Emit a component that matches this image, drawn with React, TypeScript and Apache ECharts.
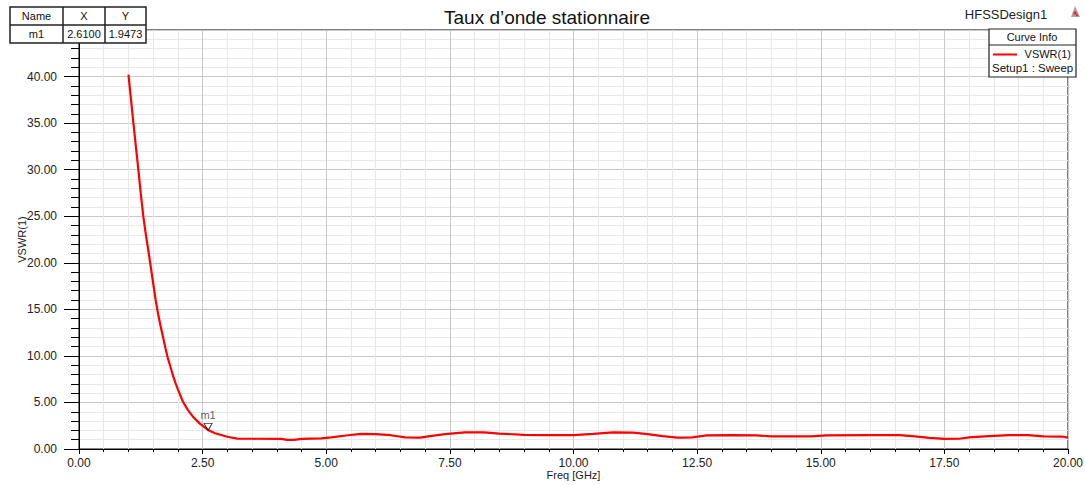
import React, { useEffect, useRef } from "react";
import * as echarts from "echarts";

const TITLE = "Taux d’onde stationnaire";
const DESIGN = "HFSSDesign1";
const X_NAME = "Freq [GHz]";
const Y_NAME = "VSWR(1)";
const SERIES_NAME = "VSWR(1)";
const SETUP_NAME = "Setup1 : Sweep";

const freq = [
  1.0, 1.05, 1.1, 1.15, 1.2, 1.25, 1.3, 1.35, 1.4, 1.45, 1.5, 1.55, 1.6, 1.65, 1.7, 1.75, 1.79, 1.85,
  1.9, 1.95, 2.0, 2.1, 2.2, 2.3, 2.45, 2.61, 2.75, 3.0, 3.2, 3.5, 4.1, 4.2, 4.35, 4.5, 4.9, 5.1, 5.4,
  5.7, 6.0, 6.3, 6.6, 6.9, 7.1, 7.4, 7.8, 8.2, 8.5, 9.0, 9.5, 10.0, 10.4, 10.8, 11.2, 11.5, 11.8, 12.1,
  12.4, 12.7, 13.2, 13.7, 14.0, 14.8, 15.1, 16.0, 16.6, 16.9, 17.2, 17.5, 17.8, 18.0, 18.4, 18.8, 19.2,
  19.5, 19.9, 20.0,
];
const vswr = [
  40.2, 37.6, 35.0, 32.5, 30.0, 27.4, 25.0, 23.1, 21.4, 19.6, 17.8, 16.0, 14.5, 13.2, 12.0, 10.8, 9.9,
  8.8, 7.9, 7.1, 6.4, 5.1, 4.2, 3.5, 2.7, 2.05, 1.69, 1.32, 1.12, 1.1, 1.08, 0.98, 0.98, 1.08, 1.15,
  1.25, 1.45, 1.62, 1.6, 1.48, 1.25, 1.22, 1.38, 1.6, 1.78, 1.78, 1.66, 1.52, 1.5, 1.5, 1.62, 1.78,
  1.76, 1.6, 1.38, 1.22, 1.25, 1.46, 1.5, 1.46, 1.36, 1.36, 1.46, 1.5, 1.48, 1.36, 1.2, 1.08, 1.1,
  1.25, 1.38, 1.5, 1.48, 1.36, 1.32, 1.22,
];

const markerNames = ["m1"];
const markerX = [2.61];
const markerY = [1.9473];
const tableHeaders = ["Name", "X", "Y"];

const FONT = "Liberation Sans, Arial, sans-serif";

export default function App() {
  const ref = useRef<HTMLDivElement>(null);

  useEffect(() => {
    if (!ref.current) return;
    const chart = echarts.init(ref.current, undefined, { renderer: "svg" });

    const colX = [10, 63, 105, 146];
    const rowY = [7, 25, 43];
    const tableRows = [tableHeaders, [markerNames[0], markerX[0].toFixed(4), markerY[0].toFixed(4)]];
    const tableGraphics: any[] = [
      { type: "rect", shape: { x: colX[0], y: rowY[0], width: colX[3] - colX[0], height: rowY[2] - rowY[0] }, style: { fill: "#fff", stroke: "#222", lineWidth: 1.5 }, z: 10 },
      { type: "line", shape: { x1: colX[0], y1: rowY[1], x2: colX[3], y2: rowY[1] }, style: { stroke: "#222", lineWidth: 1.5 }, z: 11 },
      { type: "line", shape: { x1: colX[1], y1: rowY[0], x2: colX[1], y2: rowY[2] }, style: { stroke: "#222", lineWidth: 1.5 }, z: 11 },
      { type: "line", shape: { x1: colX[2], y1: rowY[0], x2: colX[2], y2: rowY[2] }, style: { stroke: "#222", lineWidth: 1.5 }, z: 11 },
    ];
    tableRows.forEach((row, r) => {
      row.forEach((txt, c) => {
        tableGraphics.push({
          type: "text",
          x: (colX[c] + colX[c + 1]) / 2,
          y: (rowY[r] + rowY[r + 1]) / 2,
          z: 12,
          style: { text: txt, fill: "#111", font: `11px ${FONT}`, align: "center", verticalAlign: "middle" },
        });
      });
    });

    const legendGraphics: any[] = [
      { type: "rect", shape: { x: 989, y: 29, width: 87, height: 48 }, style: { fill: "#fff", stroke: "#222", lineWidth: 1.2 }, z: 10 },
      { type: "line", shape: { x1: 989, y1: 45, x2: 1076, y2: 45 }, style: { stroke: "#222", lineWidth: 1 }, z: 11 },
      { type: "text", x: 1032, y: 37, z: 12, style: { text: "Curve Info", fill: "#111", font: `11px ${FONT}`, align: "center", verticalAlign: "middle" } },
      { type: "line", shape: { x1: 993, y1: 54.5, x2: 1017, y2: 54.5 }, style: { stroke: "#ff0000", lineWidth: 2 }, z: 11 },
      { type: "text", x: 1071, y: 54, z: 12, style: { text: SERIES_NAME, fill: "#111", font: `11px ${FONT}`, align: "right", verticalAlign: "middle" } },
      { type: "text", x: 992, y: 68, z: 12, style: { text: SETUP_NAME, fill: "#111", font: `11.5px ${FONT}`, align: "left", verticalAlign: "middle" } },
    ];

    const otherGraphics: any[] = [
      { type: "text", x: 1006, y: 14, style: { text: DESIGN, fill: "#222", font: `13px ${FONT}`, align: "center", verticalAlign: "middle" } },
      { type: "polygon", shape: { points: [[1075, 6], [1071, 17], [1080, 17]] }, style: { fill: "#b0a0a0" } },
      { type: "circle", shape: { cx: 1075, cy: 13, r: 1.6 }, style: { fill: "#e03030" } },
      { type: "circle", shape: { cx: 1077, cy: 15, r: 1.2 }, style: { fill: "#e03030" } },
    ];

    chart.setOption({
      animation: false,
      backgroundColor: "#ffffff",
      title: {
        text: TITLE,
        left: 542,
        top: 3,
        textAlign: "center",
        textStyle: { fontFamily: FONT, fontSize: 19, fontWeight: "normal", color: "#111" },
      },
      grid: {
        left: 79,
        right: 17,
        top: 30,
        bottom: 36,
        show: true,
        borderColor: "#000",
        borderWidth: 1,
        containLabel: false,
        outerBoundsMode: "none",
      },
      xAxis: {
        type: "value",
        min: 0,
        max: 20,
        interval: 2.5,
        name: X_NAME,
        nameLocation: "middle",
        nameGap: 20,
        nameMoveOverlap: false,
        nameTextStyle: { fontFamily: FONT, fontSize: 11, color: "#222" },
        axisLine: { show: true, lineStyle: { color: "#000", width: 1 } },
        axisTick: { show: true, length: 5, lineStyle: { color: "#000" } },
        minorTick: { show: true, splitNumber: 5, length: 3, lineStyle: { color: "#000" } },
        splitLine: { show: true, lineStyle: { color: "#c8c8c8", width: 1 } },
        minorSplitLine: { show: true, lineStyle: { color: "#e8e8e8", width: 1 } },
        axisLabel: {
          fontFamily: FONT,
          fontSize: 12,
          color: "#222",
          margin: 8,
          formatter: (v: number) => v.toFixed(2),
        },
      },
      yAxis: {
        type: "value",
        min: 0,
        max: 45,
        interval: 5,
        name: Y_NAME,
        nameLocation: "middle",
        nameGap: 52,
        nameRotate: 90,
        nameMoveOverlap: false,
        nameTextStyle: { fontFamily: FONT, fontSize: 11, color: "#222" },
        axisLine: { show: true, lineStyle: { color: "#000", width: 1 } },
        axisTick: { show: true, length: 15, lineStyle: { color: "#000" } },
        minorTick: { show: true, splitNumber: 5, length: 8, lineStyle: { color: "#000" } },
        splitLine: { show: true, lineStyle: { color: "#c8c8c8", width: 1 } },
        minorSplitLine: { show: true, lineStyle: { color: "#e8e8e8", width: 1 } },
        axisLabel: {
          fontFamily: FONT,
          fontSize: 12,
          color: "#222",
          margin: 22,
          showMaxLabel: false,
          formatter: (v: number) => (v >= 45 ? "" : v.toFixed(2)),
        },
      },
      series: [
        {
          name: SERIES_NAME,
          type: "line",
          data: freq.map((f, i) => [f, vswr[i]]),
          showSymbol: false,
          lineStyle: { color: "#ff0000", width: 2.2 },
          itemStyle: { color: "#ff0000" },
          z: 5,
        },
        {
          name: "markers",
          type: "scatter",
          data: markerX.map((x, i) => ({ value: [x, markerY[i]], name: markerNames[i] })),
          symbol: "path://M0,0 L10,0 L5,9 Z",
          symbolSize: [8, 7],
          symbolOffset: [0, -4],
          itemStyle: { color: "rgba(255,255,255,0)", borderColor: "#111", borderWidth: 1 },
          label: {
            show: true,
            position: "top",
            distance: 2,
            formatter: (p: any) => p.name,
            fontFamily: FONT,
            fontSize: 11,
            color: "#333",
          },
          z: 6,
        },
      ],
      graphic: [...tableGraphics, ...legendGraphics, ...otherGraphics],
    });

    return () => chart.dispose();
  }, []);

  return (
    <div
      ref={ref}
      style={{ position: "fixed", left: 0, top: 0, width: 1085, height: 485, background: "#fff" }}
    />
  );
}
